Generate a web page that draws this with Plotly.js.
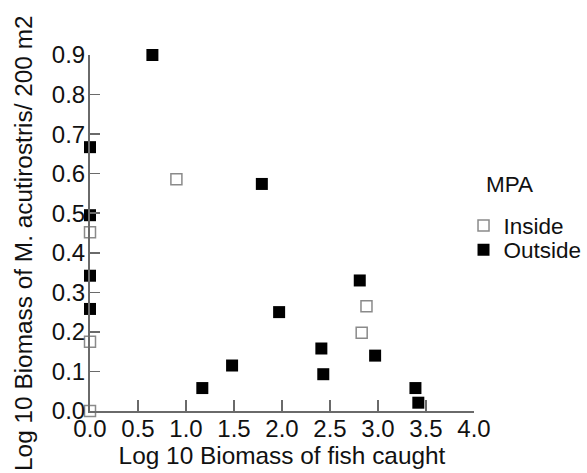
<!DOCTYPE html>
<html>
<head>
<meta charset="utf-8">
<script src="https://cdn.plot.ly/plotly-3.0.1.min.js"></script>
<style>html,body{margin:0;padding:0;background:#fff;}</style>
</head>
<body>
<div id="chart" style="width:587px;height:473px;"></div>
<script>
// Inside MPA
const insideX = [0.90, 0.00, 0.00, 0.00, 2.88, 2.83];
const insideY = [0.586, 0.452, 0.175, 0.000, 0.265, 0.198];
// Outside MPA
const outsideX = [0.65, 0.00, 0.00, 1.79, 0.00, 0.00, 1.17, 1.48, 1.97, 2.81, 2.41, 2.43, 2.97, 3.39, 3.42];
const outsideY = [0.900, 0.667, 0.495, 0.574, 0.342, 0.258, 0.058, 0.115, 0.250, 0.330, 0.158, 0.093, 0.140, 0.058, 0.021];
const xTicks = [0, 0.5, 1, 1.5, 2, 2.5, 3, 3.5, 4];
const xTickText = ['0.0','0.5','1.0','1.5','2.0','2.5','3.0','3.5','4.0'];
const yTicks = [0, 0.1, 0.2, 0.3, 0.4, 0.5, 0.6, 0.7, 0.8, 0.9];
const yTickText = ['0.0','0.1','0.2','0.3','0.4','0.5','0.6','0.7','0.8','0.9'];
const legendTitle = 'MPA';
const yTitle = 'Log 10 Biomass of M. acutirostris/ 200 m2';
const xTitle = 'Log 10 Biomass of fish caught';

const font = 'Liberation Sans, Arial, sans-serif';
const data = [
  {x: insideX, y: insideY, name: 'Inside', type: 'scatter', mode: 'markers', cliponaxis: false, legend: 'legend',
   marker: {symbol: 'square-open', size: 11, color: '#8a8a8a', line: {width: 1.5, color: '#8a8a8a'}}},
  {x: outsideX, y: outsideY, name: 'Outside', type: 'scatter', mode: 'markers', cliponaxis: false, legend: 'legend2',
   marker: {symbol: 'square', size: 12, color: '#000000'}}
];
const legendCommon = {xanchor: 'left', yanchor: 'middle', font: {size: 22.5}, itemwidth: 30,
  bgcolor: 'rgba(0,0,0,0)', borderwidth: 0};
const layout = {
  width: 587, height: 473,
  margin: {l: 90, r: 113, t: 55, b: 62, autoexpand: false},
  paper_bgcolor: '#fff', plot_bgcolor: '#fff',
  font: {family: font, size: 24, color: '#111'},
  showlegend: true,
  legend: Object.assign({x: 0.9727, y: 0.5197}, legendCommon),
  legend2: Object.assign({x: 0.9727, y: 0.452}, legendCommon),
  annotations: [
    {text: legendTitle, xref: 'paper', yref: 'paper', x: 1.026, y: 0.635,
     xanchor: 'left', yanchor: 'middle', showarrow: false, font: {size: 22.5}},
    {text: yTitle, xref: 'paper', yref: 'paper', x: -0.1719, y: 0.472, textangle: -90,
     xanchor: 'center', yanchor: 'middle', showarrow: false, font: {size: 24.4}}
  ],
  xaxis: {range: [0, 4], tickvals: xTicks, ticktext: xTickText, showgrid: false, zeroline: false,
    showline: true, linecolor: '#6a6a6a', linewidth: 2, ticks: 'inside', ticklen: 11, tickwidth: 1.5,
    tickcolor: '#6a6a6a', tickfont: {size: 24}, automargin: false, ticklabelstandoff: -5,
    title: {text: xTitle, font: {size: 24.4}, standoff: 2}},
  yaxis: {range: [0, 0.9], tickvals: yTicks, ticktext: yTickText, showgrid: false, zeroline: false,
    showline: true, linecolor: '#6a6a6a', linewidth: 2, ticks: 'inside', ticklen: 10, tickwidth: 1.5,
    tickcolor: '#6a6a6a', tickfont: {size: 24}, automargin: false, ticklabelstandoff: -2}
};
Plotly.newPlot('chart', data, layout, {staticPlot: true, displayModeBar: false});
</script>
</body>
</html>
